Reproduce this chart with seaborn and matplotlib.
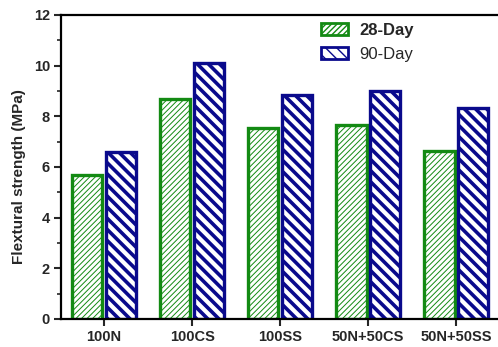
import pandas as pd
import matplotlib.pyplot as plt
import seaborn as sns
import numpy as np
from matplotlib.patches import Patch

# values
mixes = ["100N", "100CS", "100SS", "50N+50CS", "50N+50SS"]
day28 = [5.68, 8.68, 7.54, 7.66, 6.63]
day90 = [6.59, 10.10, 8.84, 9.00, 8.33]
ages = ["28-Day", "90-Day"]

sns.set_style("ticks")
plt.rcParams['font.family'] = ['Liberation Sans', 'DejaVu Sans']

df = pd.DataFrame({
    "Mix": mixes * 2,
    "Age": [ages[0]] * len(mixes) + [ages[1]] * len(mixes),
    "Strength": day28 + day90,
})

edge_colors = {"28-Day": "#138a13", "90-Day": "#0a0a8c"}
hatches = {"28-Day": "//////", "90-Day": "\\\\\\"}
hatch_lw = {"28-Day": 0.7, "90-Day": 2.6}

fig = plt.figure(figsize=(4.98, 3.47), dpi=100)
ax = fig.add_axes([61 / 498, 28 / 347, 448 / 498, 304 / 347])

sns.barplot(data=df, x="Mix", y="Strength", hue="Age", order=mixes, hue_order=ages,
            width=0.76, gap=0.1, ax=ax, legend=False)

for container, age in zip(ax.containers, ages):
    for bar in container:
        bar.set_facecolor("white")
        bar.set_edgecolor(edge_colors[age])
        bar.set_linewidth(2.4)
        bar.set_hatch(hatches[age])
        if hasattr(bar, "set_hatch_linewidth"):
            bar.set_hatch_linewidth(hatch_lw[age])

ax.set_xlim(-0.49, 4.6)
ax.set_ylim(0, 12)
ax.set_yticks(np.arange(0, 13, 2))
ax.set_yticks(np.arange(1, 12, 2), minor=True)
ax.set_xlabel("")
ax.set_ylabel("Flextural strength (MPa)", fontsize=11, fontweight="bold")
ax.yaxis.set_label_coords(-0.078, 0.47)
ax.tick_params(axis="both", which="major", labelsize=10.5, width=1.5, length=5, direction="out", pad=3)
ax.tick_params(axis="y", which="minor", width=1.2, length=3)
for lab in ax.get_xticklabels() + ax.get_yticklabels():
    lab.set_fontweight("bold")
for side in ["left", "bottom", "top"]:
    ax.spines[side].set_linewidth(1.6)
    ax.spines[side].set_color("black")
ax.spines["right"].set_visible(False)

# legend with matching hatched handles
handles = []
for age in ages:
    p = Patch(facecolor="white", edgecolor=edge_colors[age], hatch=hatches[age], linewidth=2)
    if hasattr(p, "set_hatch_linewidth"):
        p.set_hatch_linewidth(hatch_lw[age])
    handles.append(p)
leg = ax.legend(handles, ages, loc="upper left", bbox_to_anchor=(306 / 498, 339 / 347),
                bbox_transform=fig.transFigure, frameon=False, fontsize=12,
                handlelength=1.6, handleheight=0.75, handletextpad=0.7, labelspacing=0.55)
leg.get_texts()[0].set_fontweight("bold")

fig.savefig("out.png", dpi=100)
